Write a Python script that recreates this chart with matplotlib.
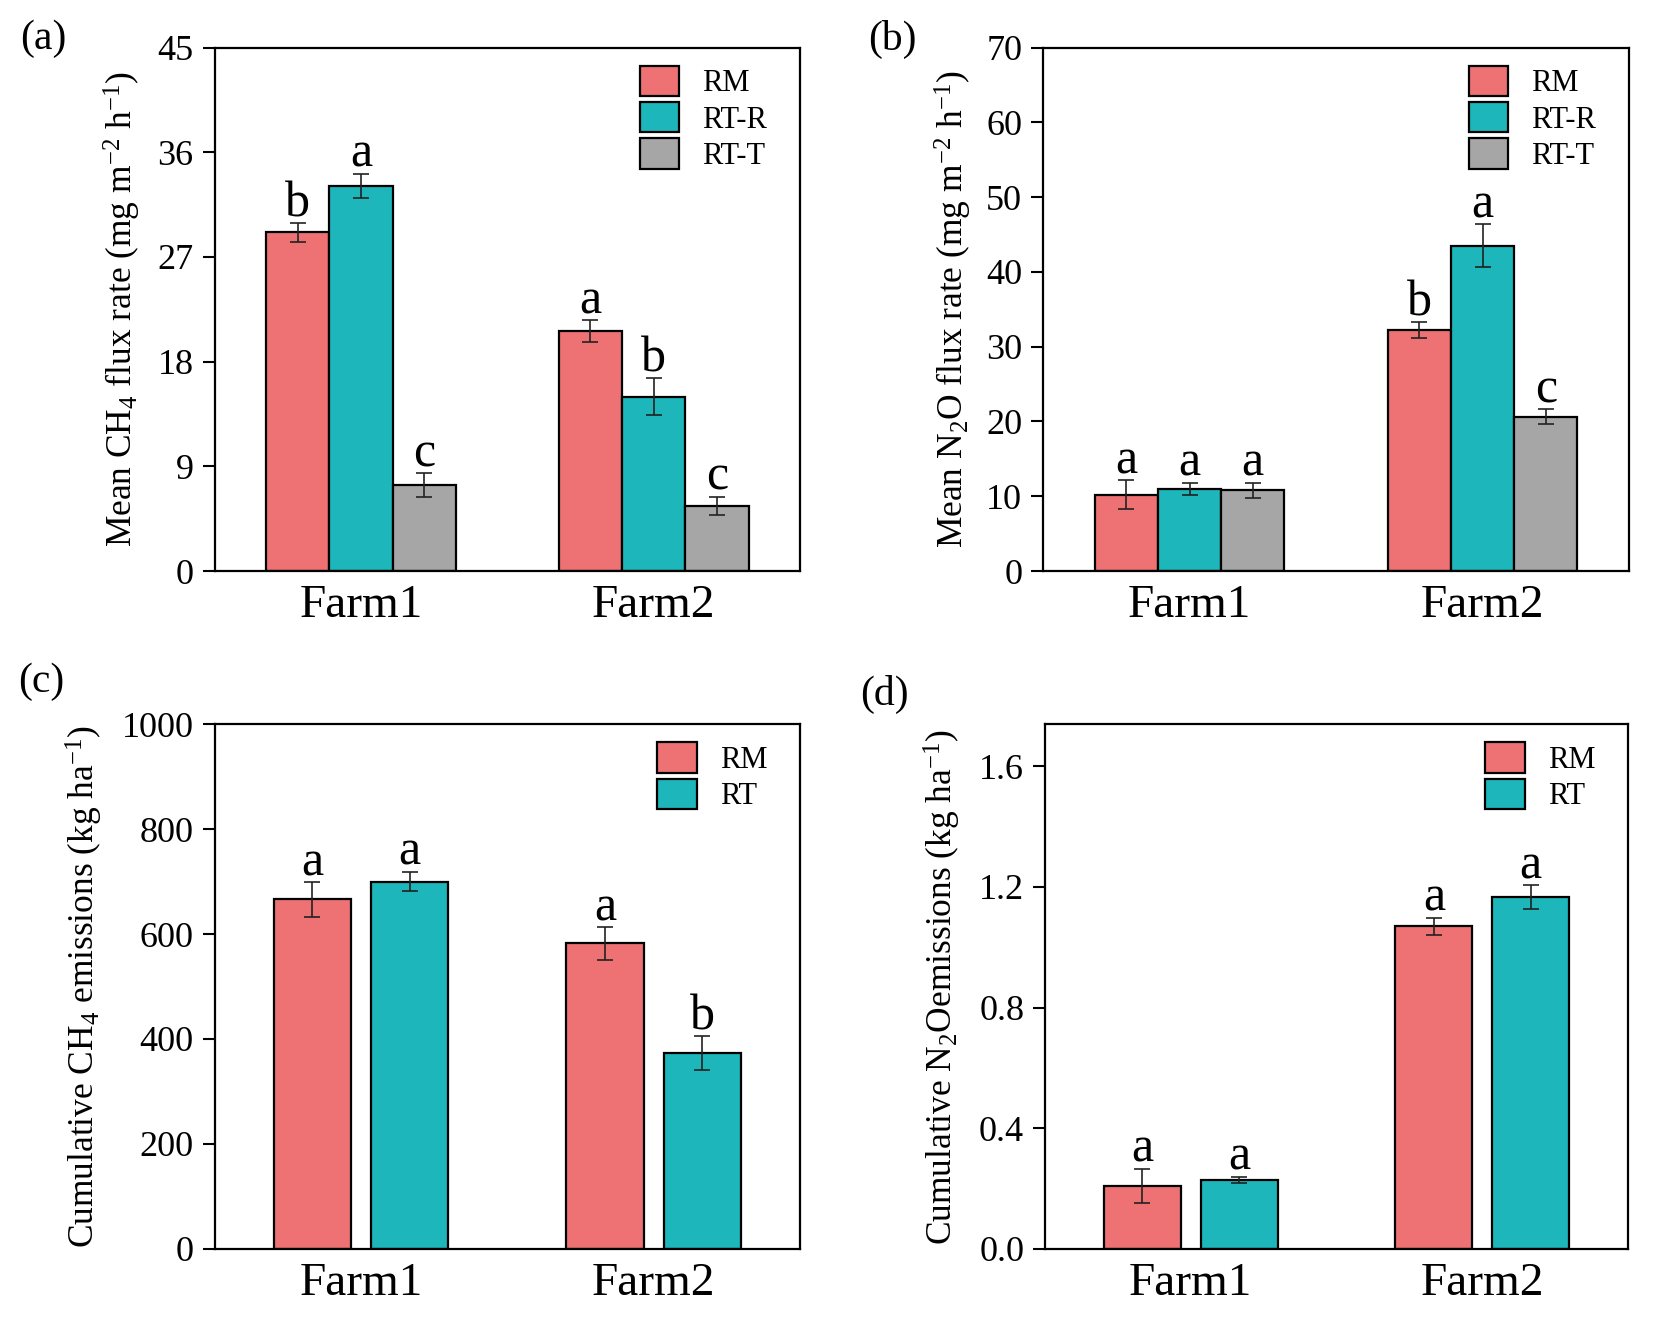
import numpy as np
import matplotlib
matplotlib.use("Agg")
import matplotlib.pyplot as plt

plt.rcParams['font.family'] = ['Liberation Serif', 'DejaVu Serif']
plt.rcParams['mathtext.fontset'] = 'custom'
plt.rcParams['mathtext.rm'] = 'Liberation Serif'
plt.rcParams['mathtext.it'] = 'Liberation Serif:italic'
plt.rcParams['mathtext.bf'] = 'Liberation Serif:bold'

# ---- data ----
farms = ['Farm1', 'Farm2']

# (a) mean CH4 flux rate
ch4_flux_labels = ['RM', 'RT-R', 'RT-T']
ch4_flux = [[29.1, 20.6], [33.1, 15.0], [7.4, 5.6]]
ch4_flux_err = [[0.8, 0.95], [1.05, 1.55], [1.0, 0.8]]
ch4_flux_sig = [['b', 'a'], ['a', 'b'], ['c', 'c']]

# (b) mean N2O flux rate
n2o_flux_labels = ['RM', 'RT-R', 'RT-T']
n2o_flux = [[10.2, 32.2], [11.0, 43.5], [10.8, 20.6]]
n2o_flux_err = [[1.95, 1.05], [0.8, 2.9], [1.0, 1.0]]
n2o_flux_sig = [['a', 'b'], ['a', 'a'], ['a', 'c']]

# (c) cumulative CH4
ch4_cum_labels = ['RM', 'RT']
ch4_cum = [[666, 582], [700, 373]]
ch4_cum_err = [[33, 31], [19, 32]]
ch4_cum_sig = [['a', 'a'], ['a', 'b']]

# (d) cumulative N2O
n2o_cum_labels = ['RM', 'RT']
n2o_cum = [[0.209, 1.069], [0.229, 1.166]]
n2o_cum_err = [[0.057, 0.029], [0.011, 0.04]]
n2o_cum_sig = [['a', 'a'], ['a', 'a']]

colors = ['#EE7174', '#1CB6BB', '#A6A6A6']


def panel(ax, labels, vals, errs, sigs, ylim, yticks, ylabel, fmt, lab_x):
    n = len(labels)
    x = np.arange(len(farms))
    if n == 3:
        w = 0.216
        offs = [-w, 0, w]
    else:
        w = 0.264
        offs = [-0.166, 0.166]
    for i in range(n):
        ax.bar(x + offs[i], vals[i], w, color=colors[i], edgecolor='black',
               linewidth=1.6, label=labels[i], zorder=2)
        ax.errorbar(x + offs[i], vals[i], yerr=errs[i], fmt='none',
                    ecolor='#222222', elinewidth=1.2, capsize=6,
                    capthick=1.2, zorder=3)
        for j in range(len(farms)):
            ax.annotate(sigs[i][j], (x[j] + offs[i], vals[i][j] + errs[i][j]),
                        xytext=(0, 5), textcoords='offset points',
                        ha='center', va='baseline', fontsize=36)
    ax.set_xlim(-0.5, 1.5)
    ax.set_ylim(*ylim)
    ax.set_yticks(yticks)
    ax.set_yticklabels([fmt.format(t) for t in yticks])
    ax.set_xticks(x)
    ax.set_xticklabels(farms)
    ax.tick_params(axis='y', direction='out', length=9, width=1.5,
                   labelsize=26, pad=6)
    ax.tick_params(axis='x', length=0, labelsize=34, pad=10)
    for s in ax.spines.values():
        s.set_linewidth(1.6)
    ax.set_ylabel(ylabel, fontsize=25.5)
    ax.yaxis.set_label_coords(lab_x, 0.5)
    ax.legend(loc='upper right', bbox_to_anchor=(0.975, 1.0), fontsize=22,
              frameon=False, handlelength=1.3, handleheight=1.15,
              labelspacing=0.12, handletextpad=0.75, borderaxespad=0.3,
              borderpad=0.3)


fig = plt.figure(figsize=(16.54, 13.2), dpi=100)
ax_a = fig.add_axes([0.1297, 0.5674, 0.3540, 0.3966])
ax_b = fig.add_axes([0.6306, 0.5674, 0.3543, 0.3966])
ax_c = fig.add_axes([0.1297, 0.0538, 0.3540, 0.3977])
ax_d = fig.add_axes([0.6318, 0.0538, 0.3525, 0.3977])

panel(ax_a, ch4_flux_labels, ch4_flux, ch4_flux_err, ch4_flux_sig,
      (0, 45), [0, 9, 18, 27, 36, 45],
      'Mean CH$_4$ flux rate (mg m$^{-2}$ h$^{-1}$)', '{:g}', -0.123)
panel(ax_b, n2o_flux_labels, n2o_flux, n2o_flux_err, n2o_flux_sig,
      (0, 70), [0, 10, 20, 30, 40, 50, 60, 70],
      'Mean N$_2$O flux rate (mg m$^{-2}$ h$^{-1}$)', '{:g}', -0.118)
panel(ax_c, ch4_cum_labels, ch4_cum, ch4_cum_err, ch4_cum_sig,
      (0, 1000), [0, 200, 400, 600, 800, 1000],
      'Cumulative CH$_4$ emissions (kg ha$^{-1}$)', '{:g}', -0.187)
panel(ax_d, n2o_cum_labels, n2o_cum, n2o_cum_err, n2o_cum_sig,
      (0, 1.74), [0.0, 0.4, 0.8, 1.2, 1.6],
      'Cumulative N$_2$Oemissions (kg ha$^{-1}$)', '{:.1f}', -0.14)

fig.text(0.012, 0.985, '(a)', fontsize=30, va='top')
fig.text(0.525, 0.985, '(b)', fontsize=30, va='top')
fig.text(0.011, 0.498, '(c)', fontsize=30, va='top')
fig.text(0.52, 0.489, '(d)', fontsize=30, va='top')

fig.savefig('out.png', dpi=100)
